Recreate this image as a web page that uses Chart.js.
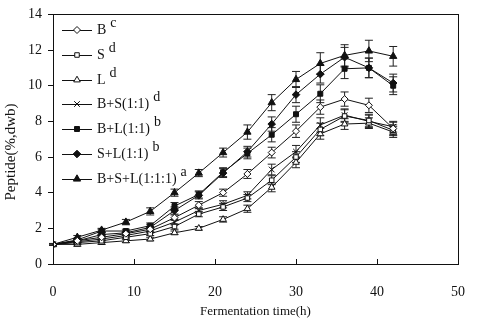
<!DOCTYPE html>
<html lang="en">
<head>
    <meta charset="UTF-8">
    <title>Peptide content</title>
    <script src="https://cdn.jsdelivr.net/npm/chart.js"></script>
    <style>
        body { margin: 0; background: white; }
        .wrap { width: 485px; height: 320px; }
    </style>
</head>
<body>
    <div class="wrap"><canvas id="peptideChart" width="485" height="320"></canvas></div>

    <script>
        // fermentation hours
        const hours = [0, 3, 6, 9, 12, 15, 18, 21, 24, 27, 30, 33, 36, 39, 42];

        const seriesNames = ['B', 'S', 'L', 'B+S(1:1)', 'B+L(1:1)', 'S+L(1:1)', 'B+S+L(1:1:1)'];
        const seriesLetters = ['c', 'd', 'd', 'd', 'b', 'b', 'a'];

        const valB   = [1.1, 1.3, 1.5, 1.7, 1.95, 2.6, 3.3, 4.0, 5.05, 6.25, 7.45, 8.8, 9.25, 8.9, 7.6];
        const valS   = [1.1, 1.2, 1.3, 1.5, 1.7, 2.1, 2.8, 3.2, 3.7, 4.7, 6.0, 7.55, 8.3, 8.05, 7.5];
        const valL   = [1.1, 1.1, 1.2, 1.3, 1.4, 1.75, 2.0, 2.5, 3.1, 4.3, 5.7, 7.3, 7.85, 7.9, 7.4];
        const valBS  = [1.1, 1.25, 1.4, 1.6, 1.85, 2.35, 3.0, 3.35, 3.85, 5.3, 6.3, 7.8, 8.35, 8.0, 7.7];
        const valBL  = [1.1, 1.35, 1.85, 1.85, 2.15, 3.25, 3.9, 5.15, 6.2, 7.25, 8.4, 9.55, 10.95, 11.0, 10.0];
        const valSL  = [1.1, 1.3, 1.65, 1.75, 2.05, 3.0, 3.85, 5.1, 6.3, 7.85, 9.5, 10.65, 11.6, 11.0, 10.15];
        const valBSL = [1.1, 1.5, 1.9, 2.35, 2.95, 4.0, 5.1, 6.25, 7.4, 9.05, 10.35, 11.25, 11.7, 11.95, 11.65];

        // standard deviations (error bars)
        const errB   = [0.05, 0.1, 0.1, 0.1, 0.15, 0.15, 0.2, 0.2, 0.25, 0.3, 0.35, 0.4, 0.4, 0.4, 0.35];
        const errS   = [0.05, 0.1, 0.1, 0.1, 0.1, 0.15, 0.15, 0.2, 0.2, 0.25, 0.3, 0.35, 0.35, 0.35, 0.3];
        const errL   = [0.05, 0.1, 0.1, 0.1, 0.1, 0.1, 0.1, 0.15, 0.2, 0.25, 0.3, 0.3, 0.3, 0.3, 0.3];
        const errBS  = [0.05, 0.1, 0.1, 0.1, 0.1, 0.15, 0.15, 0.2, 0.2, 0.3, 0.35, 0.4, 0.35, 0.35, 0.3];
        const errBL  = [0.05, 0.1, 0.1, 0.1, 0.15, 0.2, 0.2, 0.25, 0.3, 0.4, 0.45, 0.5, 0.55, 0.55, 0.5];
        const errSL  = [0.05, 0.1, 0.1, 0.1, 0.15, 0.2, 0.2, 0.25, 0.3, 0.4, 0.45, 0.5, 0.55, 0.55, 0.5];
        const errBSL = [0.05, 0.1, 0.1, 0.15, 0.2, 0.2, 0.2, 0.25, 0.4, 0.45, 0.45, 0.6, 0.6, 0.6, 0.55];

        const allValues = [valB, valS, valL, valBS, valBL, valSL, valBSL];
        const allErrors = [errB, errS, errL, errBS, errBL, errSL, errBSL];
        const markerStyles = ['rectRot', 'rect', 'triangle', 'crossRot', 'rect', 'rectRot', 'triangle'];
        const markerFilled = [false, false, false, false, true, true, true];
        const markerSizes = [3.5, 3.2, 3.8, 4, 3.5, 3.8, 4.2];

        const ink = '#111';
        const serif = "'Liberation Serif', 'Times New Roman', serif";

        const datasets = seriesNames.map((name, i) => ({
            label: name,
            data: hours.map((h, j) => ({ x: h, y: allValues[i][j] })),
            errors: allErrors[i],
            borderColor: ink,
            borderWidth: 1,
            backgroundColor: markerFilled[i] ? ink : '#fff',
            pointStyle: markerStyles[i],
            pointRadius: markerSizes[i],
            pointBorderColor: ink,
            pointBorderWidth: 1,
            pointBackgroundColor: markerFilled[i] ? ink : '#fff',
            tension: 0
        }));

        // error bars, plot frame, inside x ticks, y title and legend with superscripts
        const extras = {
            id: 'extras',
            beforeDatasetsDraw(chart) {
                const ctx = chart.ctx;
                const yScale = chart.scales.y;
                ctx.save();
                ctx.strokeStyle = '#222';
                ctx.lineWidth = 1;
                chart.data.datasets.forEach((ds, i) => {
                    const meta = chart.getDatasetMeta(i);
                    meta.data.forEach((pt, j) => {
                        const v = ds.data[j].y, e = ds.errors[j];
                        const top = yScale.getPixelForValue(v + e);
                        const bot = yScale.getPixelForValue(v - e);
                        ctx.beginPath();
                        ctx.moveTo(pt.x, top); ctx.lineTo(pt.x, bot);
                        ctx.moveTo(pt.x - 4, top); ctx.lineTo(pt.x + 4, top);
                        ctx.moveTo(pt.x - 4, bot); ctx.lineTo(pt.x + 4, bot);
                        ctx.stroke();
                    });
                });
                ctx.restore();
            },
            afterDraw(chart) {
                const ctx = chart.ctx;
                const a = chart.chartArea;
                const xScale = chart.scales.x;
                ctx.save();
                ctx.strokeStyle = ink;
                ctx.lineWidth = 1;
                ctx.strokeRect(Math.round(a.left) + 0.5, Math.round(a.top) + 0.5,
                    Math.round(a.right - a.left), Math.round(a.bottom - a.top));
                // x ticks pointing inward
                xScale.ticks.forEach(t => {
                    const px = Math.round(xScale.getPixelForValue(t.value)) + 0.5;
                    ctx.beginPath();
                    ctx.moveTo(px, a.bottom);
                    ctx.lineTo(px, a.bottom - 5);
                    ctx.stroke();
                });

                // y axis title, sitting a bit below the plot centre like the original
                ctx.save();
                ctx.translate(11, 152);
                ctx.rotate(-Math.PI / 2);
                ctx.font = '15px ' + serif;
                ctx.fillStyle = ink;
                ctx.textAlign = 'center';
                ctx.textBaseline = 'middle';
                ctx.fillText('Peptide(%,dwb)', 0, 0);
                ctx.restore();

                // legend
                const rowY = [30, 55, 80, 104, 129, 154, 179];
                ctx.font = '14px ' + serif;
                ctx.textBaseline = 'middle';
                chart.data.datasets.forEach((ds, i) => {
                    const y = rowY[i];
                    ctx.strokeStyle = ink;
                    ctx.beginPath();
                    ctx.moveTo(62, y + 0.5);
                    ctx.lineTo(92, y + 0.5);
                    ctx.stroke();
                    ctx.fillStyle = ds.pointBackgroundColor;
                    Chart.helpers.drawPoint(ctx, {
                        pointStyle: ds.pointStyle,
                        radius: ds.pointRadius,
                        borderWidth: 1
                    }, 77, y);
                    ctx.fillStyle = ink;
                    ctx.textAlign = 'left';
                    ctx.fillText(ds.label, 97, y);
                    const w = ctx.measureText(ds.label).width;
                    ctx.fillText(seriesLetters[i], 97 + w + 4, y - 7);
                });
                ctx.restore();
            }
        };

        const ctx = document.getElementById('peptideChart').getContext('2d');
        const chart = new Chart(ctx, {
            type: 'line',
            data: { datasets },
            options: {
                responsive: false,
                animation: false,
                layout: { padding: { top: 8, right: 10, left: 0, bottom: 0 } },
                plugins: { legend: { display: false }, tooltip: { enabled: false } },
                scales: {
                    x: {
                        type: 'linear',
                        min: 0, max: 50,
                        ticks: { stepSize: 10, color: ink, padding: 20, font: { family: serif, size: 14 } },
                        grid: { drawOnChartArea: false, drawTicks: false, color: ink },
                        border: { color: ink },
                        title: { display: true, text: 'Fermentation time(h)', color: ink, padding: { top: 0, bottom: 1 }, font: { family: serif, size: 13 } },
                        afterFit(scale) { scale.height = 56; }
                    },
                    y: {
                        min: 0, max: 14,
                        ticks: { stepSize: 2, color: ink, padding: 6, font: { family: serif, size: 14 } },
                        grid: { drawOnChartArea: false, tickLength: 5, color: ink },
                        border: { color: ink },
                        title: { display: false },
                        afterFit(scale) { scale.width = 53; }
                    }
                }
            },
            plugins: [extras]
        });
    </script>
</body>
</html>
